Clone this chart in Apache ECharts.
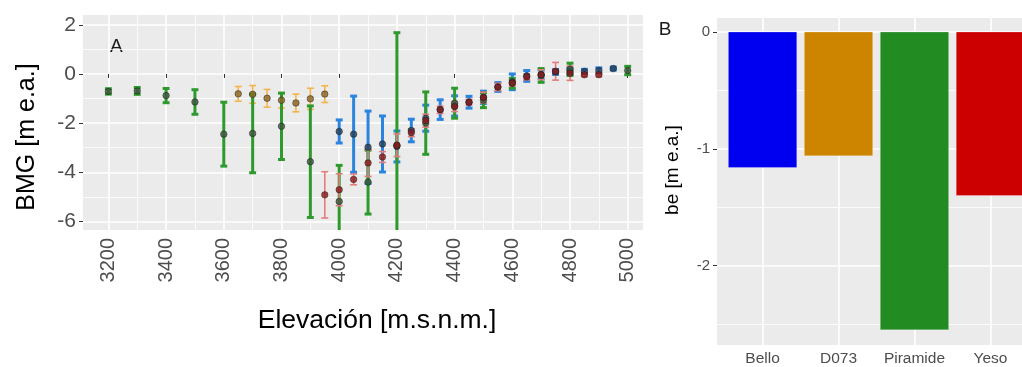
<!DOCTYPE html>
<html>
<head>
<meta charset="utf-8">
<script src="https://cdn.jsdelivr.net/npm/echarts@6/dist/echarts.min.js"></script>
<style>
  html, body { margin: 0; padding: 0; background: #fff; }
  #chart { width: 1022px; height: 367px; }
</style>
</head>
<body>
<div id="chart"></div>
<script>
// Panel A: balance de masa por banda de elevacion (media y error)
var belloElev = [4000, 4050, 4100, 4150, 4200, 4250, 4300, 4350, 4400, 4450, 4500, 4550, 4600, 4650, 4700, 4750, 4800, 4850, 4900, 4950];
var belloMean = [-2.34, -2.45, -2.98, -2.85, -2.95, -2.30, -1.80, -1.45, -1.30, -1.15, -0.95, -0.53, -0.32, -0.08, -0.02, 0.08, 0.11, 0.10, 0.14, 0.22];
var belloErr  = [0.47, 1.55, 1.47, 1.14, 0.63, 0.46, 0.53, 0.40, 0.41, 0.24, 0.25, 0.18, 0.32, 0.22, 0.18, 0.10, 0.12, 0.09, 0.11, 0.06];

var d073Elev = [3650, 3700, 3750, 3800, 3850, 3900, 3950];
var d073Mean = [-0.81, -0.83, -0.99, -1.07, -1.18, -1.01, -0.82];
var d073Err  = [0.30, 0.36, 0.36, 0.31, 0.36, 0.43, 0.34];

var piraElev = [3200, 3300, 3400, 3500, 3600, 3700, 3800, 3900, 4000, 4100, 4200, 4300, 4400, 4500, 4600, 4700, 4800, 5000];
var piraMean = [-0.71, -0.69, -0.88, -1.14, -2.45, -2.42, -2.13, -3.57, -5.19, -4.40, -2.90, -2.00, -1.19, -1.07, -0.38, -0.06, 0.19, 0.14];
var piraErr  = [0.11, 0.14, 0.29, 0.50, 1.30, 1.60, 1.35, 2.27, 1.47, 1.30, 4.58, 1.27, 0.61, 0.30, 0.20, 0.28, 0.25, 0.17];

var yesoElev = [3950, 4000, 4050, 4100, 4150, 4200, 4250, 4300, 4350, 4400, 4450, 4500, 4550, 4600, 4650, 4700, 4750, 4800, 4850, 4900];
var yesoMean = [-4.92, -4.71, -4.29, -3.62, -3.38, -2.90, -2.39, -1.90, -1.46, -1.33, -1.15, -0.96, -0.53, -0.37, -0.12, -0.03, 0.11, 0.03, -0.03, -0.03];
var yesoErr  = [0.94, 0.65, 0.22, 0.55, 0.22, 0.46, 0.16, 0.26, 0.15, 0.20, 0.12, 0.22, 0.15, 0.12, 0.12, 0.20, 0.36, 0.29, 0.08, 0.08];

var elevTicks = [3200, 3400, 3600, 3800, 4000, 4200, 4400, 4600, 4800, 5000];
var bmgTicks = [-6, -4, -2, 0, 2];

// Panel B: balance por glaciar
var glaciares = ['Bello', 'D073', 'Piramide', 'Yeso'];
var beValues = [-1.16, -1.06, -2.55, -1.40];
var beTicks = [-2, -1, 0];

var FONT = 'Liberation Sans, Arial, sans-serif';

function errData(elev, mean, err) {
  return elev.map(function (e, i) { return [e, mean[i] - err[i], mean[i] + err[i]]; });
}
function ptData(elev, mean) {
  return elev.map(function (e, i) { return [e, mean[i]]; });
}

// barra de error con tapas, usando las escalas del grafico
function errRender(color, lw) {
  return function (params, api) {
    var x = api.value(0);
    var bot = api.coord([x, api.value(1)]);
    var top = api.coord([x, api.value(2)]);
    var cap = api.size([24, 0])[0] / 2;
    var st = { stroke: color, lineWidth: lw, fill: null };
    return {
      type: 'group',
      children: [
        { type: 'line', shape: { x1: top[0], y1: top[1], x2: bot[0], y2: bot[1] }, style: st },
        { type: 'line', shape: { x1: top[0] - cap, y1: top[1], x2: top[0] + cap, y2: top[1] }, style: st },
        { type: 'line', shape: { x1: bot[0] - cap, y1: bot[1], x2: bot[0] + cap, y2: bot[1] }, style: st }
      ]
    };
  };
}

function barRender(colors) {
  return function (params, api) {
    var x = api.value(0);
    var p0 = api.coord([x, 0]);
    var p1 = api.coord([x, api.value(1)]);
    var w = api.size([0.9, 0])[0];
    return {
      type: 'rect',
      shape: { x: p0[0] - w / 2, y: Math.min(p0[1], p1[1]), width: w, height: Math.abs(p1[1] - p0[1]) },
      style: { fill: colors[params.dataIndex], stroke: 'rgba(255,255,255,0.4)', lineWidth: 0.6 }
    };
  };
}

var chart = echarts.init(document.getElementById('chart'));

var gridLine = { show: true, lineStyle: { color: '#ffffff', width: 1.6 } };
var minorLine = { show: true, lineStyle: { color: '#ffffff', width: 0.8 } };
var tickStyle = { color: '#333333', width: 1 };
var plain = function (v) { return String(v); };

var option = {
  animation: false,
  grid: [
    { left: 83, top: 15, width: 560, height: 215, show: true, backgroundColor: '#EBEBEB', borderWidth: 0, outerBoundsMode: 'none' },
    { left: 717, top: 18, width: 319, height: 327, show: true, backgroundColor: '#EBEBEB', borderWidth: 0, outerBoundsMode: 'none' }
  ],
  xAxis: [
    {
      gridIndex: 0, type: 'value', min: 3112, max: 5053, splitNumber: 10,
      axisLine: { show: false },
      axisTick: { customValues: elevTicks, length: 4, lineStyle: tickStyle },
      axisLabel: { customValues: elevTicks, formatter: plain, rotate: 90, margin: 8, color: '#4D4D4D', fontSize: 20, fontFamily: FONT },
      splitLine: gridLine,
      minorTick: { show: false, splitNumber: 2 },
      minorSplitLine: minorLine
    },
    {
      gridIndex: 1, type: 'value', min: 0.4, max: 4.6, splitNumber: 4,
      axisLine: { show: false },
      axisTick: { customValues: [1, 2, 3, 4], length: 4, lineStyle: tickStyle },
      axisLabel: {
        customValues: [1, 2, 3, 4], margin: 6, color: '#4D4D4D', fontSize: 15.5, fontFamily: FONT,
        formatter: function (v) { return glaciares[Math.round(v) - 1]; }
      },
      splitLine: gridLine
    }
  ],
  yAxis: [
    {
      gridIndex: 0, type: 'value', min: -6.35, max: 2.40, splitNumber: 5,
      axisLine: { show: false },
      axisTick: { customValues: bmgTicks, length: 4, lineStyle: tickStyle },
      axisLabel: { customValues: bmgTicks, formatter: plain, margin: 7, color: '#4D4D4D', fontSize: 21, fontFamily: FONT },
      splitLine: gridLine,
      minorTick: { show: false, splitNumber: 2 },
      minorSplitLine: minorLine
    },
    {
      gridIndex: 1, type: 'value', min: -2.68, max: 0.12, splitNumber: 3,
      axisLine: { show: false },
      axisTick: { customValues: beTicks, length: 4, lineStyle: tickStyle },
      axisLabel: { customValues: beTicks, formatter: plain, margin: 7, color: '#4D4D4D', fontSize: 15, fontFamily: FONT },
      splitLine: gridLine,
      minorTick: { show: false, splitNumber: 2 },
      minorSplitLine: minorLine
    }
  ],
  graphic: [
    { type: 'text', left: 110, top: 37, style: { text: 'A', fontSize: 19, fontFamily: FONT, fill: '#1a1a1a' } },
    { type: 'text', x: 27, y: 137, rotation: Math.PI / 2,
      style: { text: 'BMG [m e.a.]', fontSize: 25, fontFamily: FONT, fill: '#000', align: 'center', verticalAlign: 'middle' } },
    { type: 'text', x: 377, y: 321,
      style: { text: 'Elevación [m.s.n.m.]', fontSize: 26.5, fontFamily: FONT, fill: '#000', align: 'center', verticalAlign: 'middle' } },
    { type: 'text', x: 665, y: 30,
      style: { text: 'B', fontSize: 19, fontFamily: FONT, fill: '#1a1a1a', align: 'center', verticalAlign: 'middle' } },
    { type: 'text', x: 673, y: 170, rotation: Math.PI / 2,
      style: { text: 'be [m e.a.]', fontSize: 19, fontFamily: FONT, fill: '#000', align: 'center', verticalAlign: 'middle' } }
  ],
  series: [
    { type: 'custom', xAxisIndex: 0, yAxisIndex: 0, clip: true, renderItem: errRender('#2B84DE', 3), data: errData(belloElev, belloMean, belloErr) },
    { type: 'custom', xAxisIndex: 0, yAxisIndex: 0, clip: true, renderItem: errRender('#F4B54A', 1.6), data: errData(d073Elev, d073Mean, d073Err) },
    { type: 'custom', xAxisIndex: 0, yAxisIndex: 0, clip: true, renderItem: errRender('#2E9A2E', 3), data: errData(piraElev, piraMean, piraErr) },
    { type: 'custom', xAxisIndex: 0, yAxisIndex: 0, clip: true, renderItem: errRender('#E47C7C', 1.6), data: errData(yesoElev, yesoMean, yesoErr) },
    { type: 'scatter', xAxisIndex: 0, yAxisIndex: 0, symbolSize: 6.5, data: ptData(belloElev, belloMean),
      itemStyle: { color: '#23405E', borderColor: '#1a1a1a', borderWidth: 0.6 } },
    { type: 'scatter', xAxisIndex: 0, yAxisIndex: 0, symbolSize: 6.5, data: ptData(d073Elev, d073Mean),
      itemStyle: { color: '#8C6420', borderColor: '#1a1a1a', borderWidth: 0.6 } },
    { type: 'scatter', xAxisIndex: 0, yAxisIndex: 0, symbolSize: 6.5, data: ptData(piraElev, piraMean),
      itemStyle: { color: '#3A553A', borderColor: '#1a1a1a', borderWidth: 0.6 } },
    { type: 'scatter', xAxisIndex: 0, yAxisIndex: 0, symbolSize: 6.5, data: ptData(yesoElev, yesoMean),
      itemStyle: { color: '#8C1818', borderColor: '#1a1a1a', borderWidth: 0.6 } },
    { type: 'custom', xAxisIndex: 1, yAxisIndex: 1, renderItem: barRender(['#0000F0', '#CD8500', '#228B22', '#CD0000']),
      data: beValues.map(function (v, i) { return [i + 1, v]; }) }
  ]
};

chart.setOption(option);
</script>
</body>
</html>
